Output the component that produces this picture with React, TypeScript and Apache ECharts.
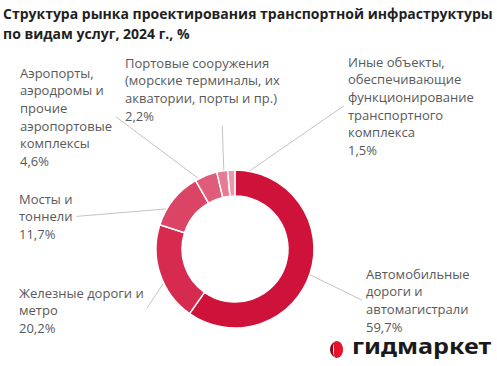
import React, { useEffect, useRef } from "react";
import * as echarts from "echarts";

const titleLines = [
  "Структура рынка проектирования транспортной инфраструктуры",
  "по видам услуг, 2024 г., %",
];

const categories = [
  "Автомобильные\nдороги и\nавтомагистрали",
  "Железные дороги и\nметро",
  "Мосты и\nтоннели",
  "Аэропорты,\nаэродромы и\nпрочие\nаэропортовые\nкомплексы",
  "Портовые сооружения\n(морские терминалы, их\nакватории, порты и пр.)",
  "Иные объекты,\nобеспечивающие\nфункционирование\nтранспортного\nкомплекса",
];

const values = [59.7, 20.2, 11.7, 4.6, 2.2, 1.5];

const colors = ["#CF1239", "#D72A4F", "#DB4464", "#E05C7B", "#E67C94", "#EC98AB"];

// label layout (top-left of each label block) and leader-line end anchor
const labelPos = [
  { x: 366, y: 265, anchor: "left" },
  { x: 19, y: 284, anchor: "custom", ox: 128, oy: 24 },
  { x: 19, y: 190, anchor: "right" },
  { x: 20, y: 64, anchor: "right" },
  { x: 125, y: 54, anchor: "bottom" },
  { x: 348, y: 53, anchor: "left" },
];

const CX = 235;
const CY = 249;
const R0 = 53;
const R1 = 79;
const RMID = (R0 + R1) / 2;

const logoIcon = "M6.5 0 C10.5 0 13 4 13 8.5 C13 13 10.5 17 6.5 17 C3.5 17 4 13 4 8.5 C4 4 3 0 6.5 0 Z";
const logoIconDark = "M4.5 0.8 C1.5 2.5 0 5.5 0 8.5 C0 11.5 1.5 14.5 4.5 16.2 C3.3 13.5 3 11.2 3 8.5 C3 5.8 3.3 3.5 4.5 0.8 Z";

let registered = false;
function registerShapes() {
  if (registered) return;
  registered = true;
  echarts.graphic.registerShape("logoIcon", echarts.graphic.extendPath(logoIcon, {}));
  echarts.graphic.registerShape("logoIconDark", echarts.graphic.extendPath(logoIconDark, {}));
}

export default function App() {
  const ref = useRef<HTMLDivElement>(null);

  useEffect(() => {
    if (!ref.current) return;
    registerShapes();
    const chart = echarts.init(ref.current, undefined, { renderer: "svg" });
    const total = values.reduce((a, b) => a + b, 0);
    const cum: number[] = [];
    let acc = 0;
    values.forEach((v) => {
      cum.push(acc + v / 2);
      acc += v;
    });

    const option: any = {
      animation: false,
      backgroundColor: "#ffffff",
      title: {
        text: titleLines.join("\n"),
        left: 3,
        top: 3,
        padding: 0,
        textStyle: {
          fontFamily: "Open Sans",
          fontSize: 14,
          fontWeight: "bold",
          color: "#1f1f1f",
          lineHeight: 20,
        },
      },
      series: [
        {
          type: "pie",
          center: [CX, CY],
          radius: [R0, R1],
          startAngle: 90,
          clockwise: true,
          avoidLabelOverlap: false,
          color: colors,
          itemStyle: { borderColor: "#ffffff", borderWidth: 1.5 },
          label: {
            show: true,
            position: "outside",
            fontFamily: "Open Sans",
            fontSize: 13,
            lineHeight: 17.6,
            color: "#595959",
            align: "left",
            formatter: (p: any) =>
              p.name + "\n" + Number(p.value).toFixed(1).replace(".", ",") + "%",
          },
          labelLine: {
            show: true,
            lineStyle: { color: "#C4C4C4", width: 1 },
          },
          labelLayout: (params: any) => {
            const i = params.dataIndex;
            const lp = labelPos[i];
            const w = params.labelRect.width;
            const h = params.labelRect.height;
            let sx: number, sy: number;
            const pts = params.labelLinePoints;
            if (pts && pts[0]) {
              sx = CX + (pts[0][0] - CX) * (RMID / R1);
              sy = CY + (pts[0][1] - CY) * (RMID / R1);
            } else {
              const th = (cum[i] / total) * Math.PI * 2;
              sx = CX + RMID * Math.sin(th);
              sy = CY - RMID * Math.cos(th);
            }
            let ex: number, ey: number;
            if (lp.anchor === "left") {
              ex = lp.x - 4;
              ey = lp.y + h / 2;
            } else if (lp.anchor === "right") {
              ex = lp.x + w + 4;
              ey = lp.y + h / 2;
            } else if (lp.anchor === "bottom") {
              ex = sx - 2;
              ey = lp.y + h + 1;
            } else {
              ex = lp.x + (lp as any).ox;
              ey = lp.y + (lp as any).oy;
            }
            return {
              x: lp.x,
              y: lp.y,
              align: "left",
              verticalAlign: "top",
              labelLinePoints: [
                [sx, sy],
                [ex, ey],
              ],
            };
          },
          data: categories.map((c, i) => ({ name: c, value: values[i] })),
        },
      ],
      graphic: [
        {
          type: "logoIcon",
          x: 330,
          y: 341,
          style: { fill: "#E5142A" },
        },
        {
          type: "logoIconDark",
          x: 330,
          y: 341,
          style: { fill: "#8E0A1A" },
        },
        {
          type: "text",
          x: 352,
          y: 346,
          scaleX: 1.2,
          style: {
            text: "гидмаркет",
            fontFamily: "Noto Sans",
            fontSize: 21,
            lineHeight: 12,
            fontWeight: "bold",
            fill: "#1a1a1a",
            verticalAlign: "middle",
          },
        },
      ],
    };
    chart.setOption(option);
    return () => chart.dispose();
  }, []);

  return (
    <div
      ref={ref}
      style={{ position: "fixed", left: 0, top: 0, width: 497, height: 366 }}
    />
  );
}
